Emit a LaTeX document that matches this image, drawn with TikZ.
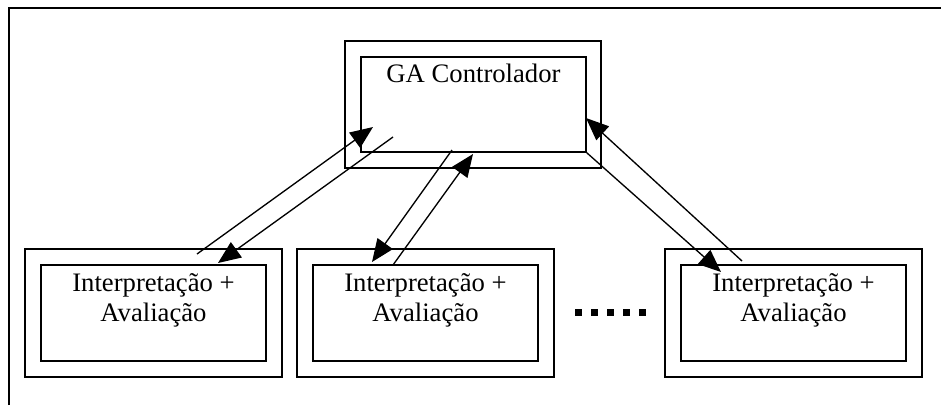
\documentclass[tikz,border=0pt]{standalone}
\usepackage{fontspec}
\setmainfont{Liberation Serif}
\usetikzlibrary{arrows.meta}

\begin{document}
\begin{tikzpicture}[x=0.75pt,y=-0.75pt,
    box/.style={draw,line width=1.1pt,inner sep=0pt},
    outbox/.style={box,minimum width=192.75pt,minimum height=96pt},
    inbox/.style={box,minimum width=168.75pt,minimum height=72pt},
    lbl/.style={font=\fontsize{20}{22.5}\selectfont,anchor=base,inner sep=0pt},
    flow/.style={line width=1pt,-{Triangle[length=17pt,width=14pt]}}]
    \useasboundingbox (0,0) rectangle (941,405);
    % Frame (left and top edge only)
    \draw[line width=1.2pt] (9,405) -- (9,8) -- (941,8);
    % GA controller
    \node[box,minimum width=192pt,minimum height=95.25pt] (gaout) at (473,104.5) {};
    \node[inbox,minimum height=71.25pt] (ga) at (473.5,104.5) {};
    \node[lbl] (gatxt) at (473.5,82.7) {GA Controlador};
    % Interpretation + evaluation workers
    \foreach \i/\cx in {1/153.5,2/425.5,3/793.5}{
      \node[outbox] (out\i) at (\cx,313) {};
      \node[inbox] (wk\i) at (\cx,313) {};
      \node[lbl] (wk\i a) at (\cx,291.7) {Interpretação +};
      \node[lbl] (wk\i b) at (\cx,321.7) {Avaliação};
    }
    % Dots between worker 2 and worker 3
    \foreach \k in {0,...,4}
      \fill (575+16*\k,308.5) rectangle ++(7,7);
    % Arrow end points
    \coordinate (a1) at (197,254);  \coordinate (a2) at (373,127);
    \coordinate (b1) at (393,137);  \coordinate (b2) at (218,263);
    \coordinate (c1) at (452,150);  \coordinate (c2) at (372,262);
    \coordinate (d1) at (393,265);  \coordinate (d2) at (473,154);
    \coordinate (e2) at (721,272);
    \coordinate (f1) at (742,261);  \coordinate (f2) at (586,118);
    % Messages
    \draw[flow] (a1) -- (a2);
    \draw[flow] (b1) -- (b2);
    \draw[flow] (c1) -- (c2);
    \draw[flow] (d1) -- (d2);
    \draw[flow] (ga.south east) -- (e2);
    \draw[flow] (f1) -- (f2);
\end{tikzpicture}
\end{document}
